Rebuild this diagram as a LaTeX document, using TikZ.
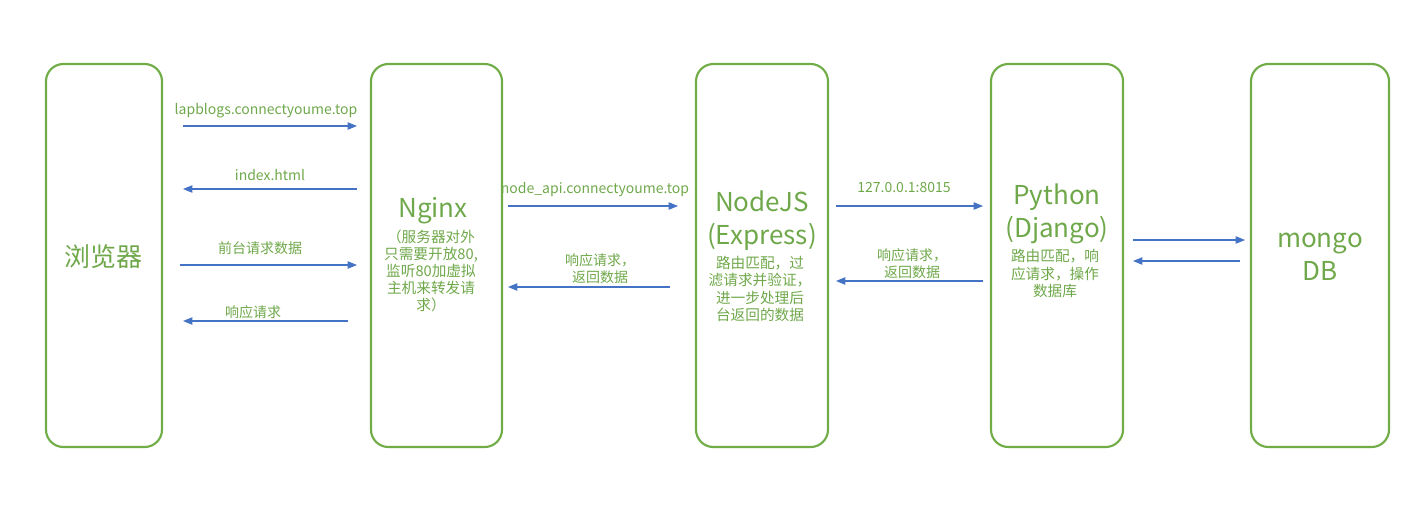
\documentclass[tikz,border=0pt]{standalone}
\usepackage{fontspec}
\setmainfont{Noto Sans CJK SC}
\usetikzlibrary{arrows.meta}
\definecolor{boxgreen}{HTML}{70AD47}
\definecolor{txtgreen}{HTML}{6FA84A}
\definecolor{arrblue}{HTML}{4472C4}
\tikzset{
  tier/.style={draw=boxgreen, line width=1.6pt, rounded corners=13pt, minimum height=287.25pt, inner sep=0pt},
  bigtxt/.style={text=txtgreen, font=\fontsize{19.5pt}{24.75pt}\selectfont, align=center, inner sep=0pt},
  smalltxt/.style={text=txtgreen, font=\fontsize{11pt}{12.9pt}\selectfont, align=center, inner sep=0pt},
  lbl/.style={text=txtgreen, font=\fontsize{10.5pt}{12.9pt}\selectfont, align=center, inner sep=0pt},
  flow/.style={draw=arrblue, line width=0.8pt, -{Triangle[length=7pt,width=5.5pt]}},
}
\begin{document}
\begin{tikzpicture}[x=0.75pt,y=-0.75pt]
\useasboundingbox (0,0) rectangle (1423,522);
% boxes
\node[tier, minimum width=87pt]    (browser) at (104,255.5) {};
\node[tier, minimum width=98.25pt] (nginx)   at (436.5,255.5) {};
\node[tier, minimum width=99pt]    (node)    at (762,255.5) {};
\node[tier, minimum width=99pt]    (python)  at (1057,255.5) {};
\node[tier, minimum width=103.5pt] (mongo)   at (1320,255.5) {};
% box texts
\node[bigtxt] (tbrowser) at (103,257) {浏览器};
\node[bigtxt] (tnginx) at (433,211) {Nginx};
\node[smalltxt] (dnginx) at (431,271) {（服务器对外\\只需要开放80,\\监听80加虚拟\\主机来转发请\\求）};
\node[bigtxt] (tnode) at (762,220.5) {NodeJS\\(Express)};
\node[smalltxt] (dnode) at (760,289) {路由匹配，过\\滤请求并验证，\\进一步处理后\\台返回的数据};
\node[bigtxt] (tpython) at (1057,213.5) {Python\\(Django)};
\node[smalltxt] (dpython) at (1055,273.5) {路由匹配，响\\应请求，操作\\数据库};
\node[bigtxt] (tmongo) at (1320,256.5) {mongo\\DB};
% arrow end points
\coordinate (a1s) at (183,126); \coordinate (a1e) at (357,126);
\coordinate (a2s) at (357,189); \coordinate (a2e) at (183,189);
\coordinate (a3s) at (180,265); \coordinate (a3e) at (357,265);
\coordinate (a4s) at (348,321); \coordinate (a4e) at (183,321);
\coordinate (a5s) at (508,206); \coordinate (a5e) at (678,206);
\coordinate (a6s) at (670,287); \coordinate (a6e) at (508,287);
\coordinate (a7s) at (836,206); \coordinate (a7e) at (983,206);
\coordinate (a8s) at (983,281); \coordinate (a8e) at (836,281);
\coordinate (a9s) at (1133,240); \coordinate (a9e) at (1245,240);
\coordinate (a10s) at (1240,261); \coordinate (a10e) at (1133,261);
\draw[flow] (a1s) -- (a1e);
\draw[flow] (a2s) -- (a2e);
\draw[flow] (a3s) -- (a3e);
\draw[flow] (a4s) -- (a4e);
\draw[flow] (a5s) -- (a5e);
\draw[flow] (a6s) -- (a6e);
\draw[flow] (a7s) -- (a7e);
\draw[flow] (a8s) -- (a8e);
\draw[flow] (a9s) -- (a9e);
\draw[flow] (a10s) -- (a10e);
% labels
\node[lbl] (l1) at (266,111) {lapblogs.connectyoume.top};
\node[lbl] (l2) at (270,175) {index.html};
\node[lbl] (l3) at (260,248) {前台请求数据};
\node[lbl] (l4) at (253,312) {响应请求};
\node[lbl] (l5) at (595,190) {node\_api.connectyoume.top};
\node[lbl] (l6) at (600,269) {响应请求，\\返回数据};
\node[lbl] (l7) at (904,188) {127.0.0.1:8015};
\node[lbl] (l8) at (912,263.5) {响应请求，\\返回数据};
\end{tikzpicture}
\end{document}
